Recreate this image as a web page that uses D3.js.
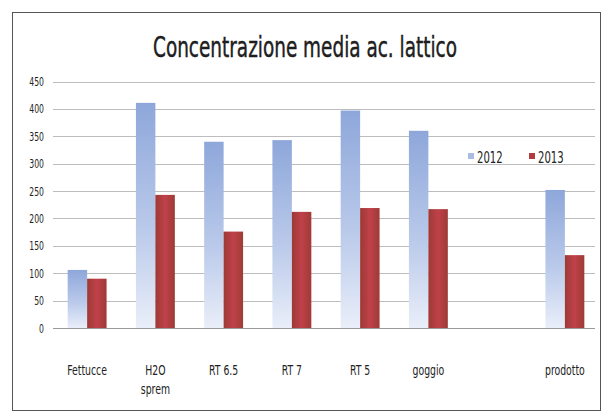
<!DOCTYPE html>
<html>
<head>
<meta charset="utf-8">
<script src="https://cdn.jsdelivr.net/npm/d3@7"></script>
<style>
  html, body { margin: 0; padding: 0; background: #fff; }
  svg { display: block; }
  text { font-family: "DejaVu Sans Condensed", "Liberation Sans Narrow", "Liberation Sans", sans-serif; fill: #222; }
</style>
</head>
<body>
<script>
// Mean lactic acid concentration per sampling point, 2012 vs 2013
const categories = ["Fettucce", "H2O sprem", "RT 6.5", "RT 7", "RT 5", "goggio", "", "prodotto"];
const values2012 = [106, 411, 340, 343, 397, 360, null, 252];
const values2013 = [90, 243, 176, 212, 219, 217, null, 133];
const seriesNames = ["2012", "2013"];
const yTicks = [0, 50, 100, 150, 200, 250, 300, 350, 400, 450];
const titleText = "Concentrazione media ac. lattico";

const W = 609, H = 416;
const svg = d3.select("body").append("svg").attr("width", W).attr("height", H);

const defs = svg.append("defs");
const gBlue = defs.append("linearGradient").attr("id", "g2012")
  .attr("x1", 0).attr("y1", 0).attr("x2", 0).attr("y2", 1);
gBlue.append("stop").attr("offset", "0%").attr("stop-color", "#8ea7da");
gBlue.append("stop").attr("offset", "55%").attr("stop-color", "#b9c9ea");
gBlue.append("stop").attr("offset", "100%").attr("stop-color", "#e9eef9");
const gRed = defs.append("linearGradient").attr("id", "g2013")
  .attr("x1", 0).attr("y1", 0).attr("x2", 1).attr("y2", 0);
gRed.append("stop").attr("offset", "0%").attr("stop-color", "#9c3a35");
gRed.append("stop").attr("offset", "50%").attr("stop-color", "#c0414a");
gRed.append("stop").attr("offset", "100%").attr("stop-color", "#9e3b36");

// chart frame
svg.append("rect").attr("x", 12.5).attr("y", 12.5).attr("width", 588).attr("height", 398)
  .attr("fill", "#fff").attr("stroke", "#555").attr("stroke-width", 1);

const x = d3.scaleBand().domain(categories.map((c, i) => i)).range([53, 599])
  .paddingInner(0.43).paddingOuter(0.215);
const xs = d3.scaleBand().domain(seriesNames).range([0, x.bandwidth()]);
const y = d3.scaleLinear().domain([0, 450]).range([328, 81.5]);

// narrow text: anchor at (px, py) and squeeze horizontally
function narrowText(parent, px, py, str, size, sx, anchor) {
  return parent.append("text")
    .attr("transform", `translate(${px},${py}) scale(${sx},1)`)
    .attr("text-anchor", anchor)
    .style("font-size", size + "px")
    .text(str);
}

// gridlines
svg.append("g").selectAll("line").data(yTicks.filter(t => t > 0)).join("line")
  .attr("x1", 53).attr("x2", 595)
  .attr("y1", d => Math.round(y(d)) + 0.5).attr("y2", d => Math.round(y(d)) + 0.5)
  .attr("stroke", "#bdbdbd").attr("stroke-width", 1.2);

// y axis labels
const ya = svg.append("g");
yTicks.forEach(t => {
  narrowText(ya, 44, y(t) + 4.5, String(t), 13, 0.66, "end").attr("fill", "#333");
});

// bars
const series = [values2012, values2013];
series.forEach((vals, si) => {
  svg.append("g").selectAll("rect")
    .data(vals.map((v, i) => ({ i, v })).filter(d => d.v != null))
    .join("rect")
    .attr("x", d => x(d.i) + xs(seriesNames[si]))
    .attr("width", xs.bandwidth())
    .attr("y", d => y(d.v))
    .attr("height", d => y(0) - y(d.v))
    .attr("fill", si === 0 ? "url(#g2012)" : "url(#g2013)");
});

// category axis
svg.append("line").attr("x1", 53).attr("x2", 595).attr("y1", 328.5).attr("y2", 328.5)
  .attr("stroke", "#999").attr("stroke-width", 1);
const xl = svg.append("g");
categories.forEach((c, i) => {
  if (!c) return;
  const words = c === "H2O sprem" ? ["H2O", "sprem"] : [c];
  words.forEach((w, k) => {
    narrowText(xl, x(i) + x.bandwidth() / 2, 375 + k * 19, w, 14, 0.74, "middle").attr("fill", "#333");
  });
});

// title, squeezed to its printed width
const title = svg.append("text").attr("text-anchor", "middle")
  .style("font-size", "29px").attr("fill", "#111")
  .attr("stroke", "#111").attr("stroke-width", 0.4)
  .text(titleText);
const tw = title.node().getComputedTextLength();
title.attr("transform", `translate(305,57) scale(${304 / tw},1)`);

// legend
const legend = svg.append("g").attr("transform", "translate(468,157)");
seriesNames.forEach((s, k) => {
  const g = legend.append("g").attr("transform", `translate(${k * 61},0)`);
  g.append("rect").attr("x", 0).attr("y", -4).attr("width", 6).attr("height", 6)
    .attr("fill", k === 0 ? "#aabce3" : "#b03c3f");
  narrowText(g, 9, 6, s, 15, 0.75, "start");
});
</script>
</body>
</html>
